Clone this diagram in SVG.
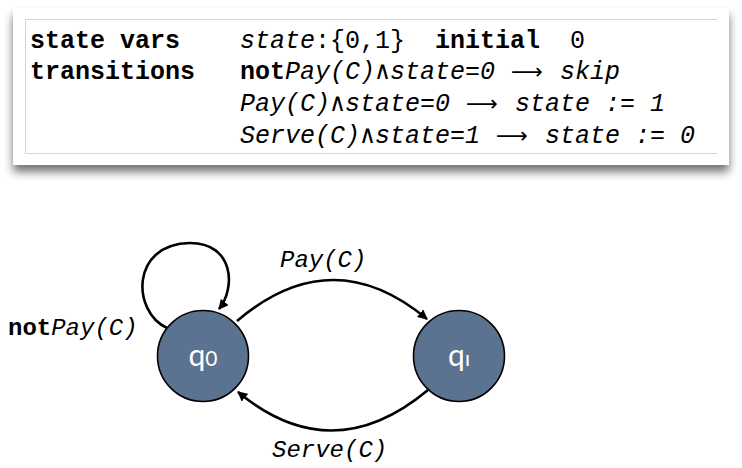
<svg xmlns="http://www.w3.org/2000/svg" width="742" height="468" viewBox="0 0 742 468">
<defs>
<filter id="shadow" x="-5%" y="-10%" width="110%" height="130%">
<feGaussianBlur in="SourceAlpha" stdDeviation="5"/>
<feOffset dx="0" dy="7" result="b"/>
<feComponentTransfer><feFuncA type="linear" slope="0.55"/></feComponentTransfer>
<feMerge><feMergeNode/><feMergeNode in="SourceGraphic"/></feMerge>
</filter>
<marker id="arr" markerWidth="10" markerHeight="10" refX="9" refY="5" orient="auto" markerUnits="userSpaceOnUse" viewBox="0 0 10 10">
<path d="M0,0 L10,5 L0,10 Z" fill="#000"/>
</marker>
</defs>
<style>
.mono{font-family:"Liberation Mono","DejaVu Sans Mono",monospace;font-size:25px;fill:#000}
.b{font-weight:bold}
.i{font-style:italic}
.arrow{font-family:"DejaVu Sans","Liberation Sans",sans-serif;font-size:22px}
.lbl{font-family:"Liberation Mono","DejaVu Sans Mono",monospace;font-size:24px;fill:#000}
.node{fill:#5b7290;stroke:#000;stroke-width:1.6}
.qt{font-family:"Lato","Open Sans",sans-serif;fill:#fff;text-anchor:middle}
.edge{fill:none;stroke:#000;stroke-width:2.6}
</style>
<rect width="742" height="468" fill="#fff"/>
<g id="panel">
<rect x="13" y="8" width="716" height="157" fill="#fff" filter="url(#shadow)"/>
<path d="M717 19.5 H25.5 V153.5 H717" fill="none" stroke="#d4d4d4" stroke-width="1"/>
<text class="mono b" x="30" y="48">state vars</text>
<text class="mono b" x="30" y="79">transitions</text>
<text class="mono" y="48"><tspan x="240" class="i">state</tspan><tspan>:{0,1}</tspan><tspan x="435" class="b">initial</tspan><tspan x="570">0</tspan></text>
<text class="mono" y="79"><tspan x="240" class="b">not</tspan><tspan class="i">Pay(C)</tspan><tspan x="375">∧</tspan><tspan x="390" class="i">state=0</tspan><tspan x="511" class="arrow" textLength="32" lengthAdjust="spacingAndGlyphs">⟶</tspan><tspan x="560" class="i">skip</tspan></text>
<text class="mono" y="111"><tspan x="240" class="i">Pay(C)</tspan><tspan x="330">∧</tspan><tspan x="345" class="i">state=0</tspan><tspan x="466" class="arrow" textLength="32" lengthAdjust="spacingAndGlyphs">⟶</tspan><tspan x="515" class="i">state := 1</tspan></text>
<text class="mono" y="143"><tspan x="240" class="i">Serve(C)</tspan><tspan x="360">∧</tspan><tspan x="375" class="i">state=1</tspan><tspan x="496" class="arrow" textLength="32" lengthAdjust="spacingAndGlyphs">⟶</tspan><tspan x="545" class="i">state := 0</tspan></text>
</g>
<g id="connectors">
<path class="edge" d="M167 328 C132 312 130 244 190 243 C234 243 236 288 219 309" marker-end="url(#arr)"/>
<path class="edge" d="M237 321 Q332 240 427 319" marker-end="url(#arr)"/>
<path class="edge" d="M428 390 Q332 470 238 392" marker-end="url(#arr)"/>
<text class="lbl" x="8" y="335"><tspan class="b">not</tspan><tspan class="i">Pay(C)</tspan></text>
<text class="lbl i" x="280" y="267">Pay(C)</text>
<text class="lbl i" x="272" y="457">Serve(C)</text>
</g>
<g id="q0">
<circle class="node" cx="203" cy="356" r="45.5"/>
<text class="qt" x="203" y="366"><tspan font-size="30">q</tspan><tspan font-size="21">0</tspan></text>
</g>
<g id="q1">
<circle class="node" cx="459" cy="356" r="45.5"/>
<text class="qt" x="459" y="366"><tspan font-size="30">q</tspan><tspan font-size="21">ı</tspan></text>
</g>
</svg>
